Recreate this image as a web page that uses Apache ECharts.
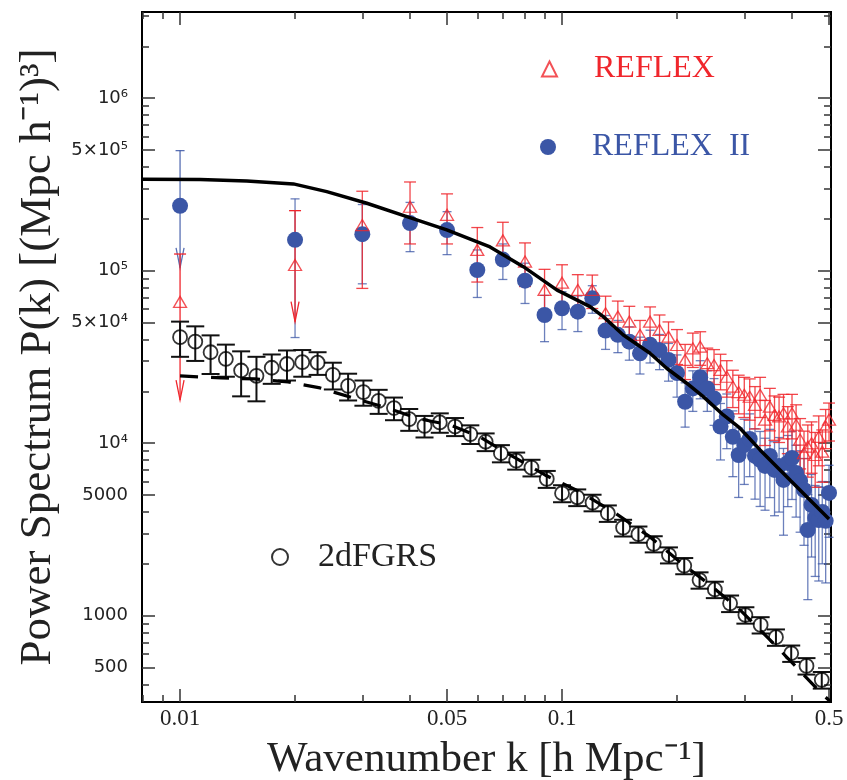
<!DOCTYPE html>
<html lang="en">
<head>
    <meta charset="utf-8">
    <title>Power spectrum</title>
    <script src="https://cdn.jsdelivr.net/npm/echarts@6/dist/echarts.min.js"></script>
    <style>
        html, body { margin: 0; height: 100%; background: #fff; }
    </style>
</head>
<body>
<div id="main" style="width:847px;height:780px;"></div>
<script>
// ---- data ----
var reflexK = [0.01, 0.02, 0.03, 0.04, 0.05, 0.06, 0.07, 0.08, 0.09, 0.10,
    0.11, 0.12, 0.13, 0.14, 0.15, 0.16, 0.17, 0.18, 0.19, 0.20,
    0.21, 0.22, 0.23, 0.24, 0.25, 0.26, 0.27, 0.28, 0.29, 0.30,
    0.31, 0.32, 0.33, 0.34, 0.35, 0.36, 0.37, 0.38, 0.39, 0.40,
    0.41, 0.42, 0.43, 0.44, 0.45, 0.46, 0.47, 0.48, 0.49, 0.50];

// REFLEX (red triangles)
var reflexP = [66000, 108000, 184000, 235000, 211000, 132000, 150000, 113000, 77400, 85300,
    77400, 77400, 56700, 54200, 50700, 42500, 50700, 45400, 41500, 37100,
    30400, 35500, 36300, 29100, 28400, 26600, 24300, 21300, 19800, 19100,
    18600, 16700, 19100, 13700, 16300, 14600, 14300, 14900, 12500, 14900,
    12800, 10500, 8750, 9560, 10000, 8550, 10900, 8940, 12500, 13700];
var reflexErr = [59000, 115000, 105000, 92000, 68000, 46000, 41000, 32000, 24500, 23000,
    17500, 17000, 14500, 12500, 11500, 9000, 11000, 10000, 9000, 8500,
    7000, 8000, 8000, 6500, 6500, 6200, 5800, 5200, 5000, 5000,
    5000, 4600, 5000, 4000, 4500, 4200, 4200, 4300, 3800, 4300,
    3900, 3400, 3000, 3200, 3300, 3000, 3500, 3000, 3200, 3400];
var reflexArrowK = [0.01, 0.02];
var reflexArrowTip = [17800, 50700];

// REFLEX II (blue dots)
var reflex2P = [238000, 151000, 163000, 189000, 172000, 101000, 116000, 87600, 55400, 60600,
    57900, 69300, 45000, 42500, 38800, 33200, 37200, 34700, 30400, 25500,
    17400, 20800, 24100, 20800, 18200, 12500, 14300, 10900, 8550, 9770,
    10600, 8440, 8000, 7390, 8440, 7000, 7390, 6130, 7690, 8220,
    6730, 6050, 5360, 3140, 4390, 3690, 3590, 4000, 3550, 5150];
var reflex2Err = [259000, 110000, 79000, 60000, 48000, 31000, 27000, 23000, 16600, 15000,
    13500, 12600, 10000, 9000, 8500, 8000, 8000, 8000, 7500, 7000,
    5000, 5500, 6000, 5500, 5500, 4500, 5000, 4500, 3700, 4000,
    4200, 3700, 3700, 3300, 3600, 3200, 3400, 3200, 3400, 3500,
    3000, 3000, 2800, 1900, 2200, 2000, 2000, 2000, 2000, 2300];
var reflex2ArrowK = [0.01];
var reflex2ArrowTip = [104000];

// 2dFGRS (open circles)
var twodfK = [0.01, 0.01096, 0.01202, 0.01318, 0.01445, 0.01585, 0.01738, 0.01905, 0.02089, 0.02291,
    0.02512, 0.02754, 0.0302, 0.03311, 0.03631, 0.03981, 0.04365, 0.04786, 0.05248, 0.05754,
    0.0631, 0.06918, 0.07586, 0.08318, 0.0912, 0.1, 0.1096, 0.1202, 0.1318, 0.1445,
    0.1585, 0.1738, 0.1905, 0.2089, 0.2291, 0.2512, 0.2754, 0.302, 0.3311, 0.3631,
    0.3981, 0.4365, 0.4786];
var twodfP = [41200, 38800, 33700, 30800, 26400, 24600, 27400, 28800, 29500, 29300,
    24900, 21500, 19800, 17600, 16000, 13800, 12600, 13200, 12500, 11300,
    10200, 8750, 7930, 7220, 6210, 5130, 4860, 4530, 3930, 3240,
    2970, 2610, 2250, 1950, 1610, 1420, 1180, 1010, 885, 751,
    606, 512, 425];
var twodfErr = [9500, 8800, 8500, 6500, 7700, 7100, 5300, 5700, 5200, 4400,
    4400, 3800, 3300, 2800, 2400, 2000, 1800, 1700, 1500, 1400,
    1200, 1000, 900, 800, 700, 580, 540, 500, 430, 360,
    320, 280, 240, 210, 175, 155, 130, 110, 96, 82,
    66, 56, 47];

// model curves
var modelK = [0.00795, 0.01128, 0.01495, 0.0198, 0.02421, 0.03083, 0.03924, 0.04991, 0.06479, 0.07918,
    0.09685, 0.1184, 0.1282, 0.1447, 0.17, 0.1879, 0.212, 0.2343, 0.2644, 0.2924,
    0.3299, 0.3875, 0.4457, 0.5];
var modelP = [339000, 338000, 331600, 318700, 287400, 246200, 205900, 172400, 137400, 105600,
    77400, 61930, 54180, 42450, 33230, 27210, 22280, 18630, 14590, 12220,
    9146, 6403, 4692, 3640];
var dashK = [0.01, 0.0128, 0.01571, 0.01917, 0.02325, 0.02837, 0.0342, 0.04249, 0.05089, 0.06099,
    0.0731, 0.09026, 0.1114, 0.1376, 0.17, 0.2036, 0.244, 0.2924, 0.3567, 0.4148,
    0.4794, 0.506];
var dashP = [24550, 23910, 23590, 22670, 20920, 18300, 16230, 13830, 12770, 10880,
    8552, 6550, 5220, 3945, 2863, 2051, 1509, 1080, 696, 492,
    352, 316];

// ticks
var xTickValues = [0.01, 0.05, 0.1, 0.5];
var xTickLabels = ['0.01', '0.05', '0.1', '0.5'];
var xMinorTicks = [0.008, 0.009, 0.02, 0.03, 0.04, 0.06, 0.07, 0.08, 0.09, 0.2, 0.3, 0.4];
var yTickValues = [500, 1000, 5000, 10000, 50000, 100000, 500000, 1000000];
var yTickLabels = ['500', '1000', '5000', '10\u2074', '5\u00d710\u2074', '10\u2075', '5\u00d710\u2075', '10\u2076'];
var yMinorTicks = [400, 600, 700, 800, 900, 2000, 3000, 4000, 6000, 7000, 8000, 9000,
    20000, 30000, 40000, 60000, 70000, 80000, 90000,
    200000, 300000, 400000, 600000, 700000, 800000, 900000, 2000000, 3000000];

var RED = '#f0262c';
var BLUE = '#3b56a6';

var chart = echarts.init(document.getElementById('main'));

function pairs(xs, ys) {
    return xs.map(function (x, i) { return [x, ys[i]]; });
}
function bars(xs, ys, es, skip) {
    var out = [];
    for (var i = 0; i < xs.length; i++) {
        if (skip.indexOf(xs[i]) >= 0) continue;
        out.push([xs[i], ys[i] - es[i], ys[i] + es[i]]);
    }
    return out;
}
function arrows(xs, ys, es, ak, tips) {
    return ak.map(function (k, j) {
        var i = xs.indexOf(k);
        return [k, ys[i] + es[i], tips[j]];
    });
}

// vertical error bar with caps
function barRenderer(cap, color, width) {
    return function (params, api) {
        var x = api.value(0);
        var top = api.coord([x, api.value(2)]);
        var bot = api.coord([x, api.value(1)]);
        var st = { stroke: color, lineWidth: width, fill: null };
        return {
            type: 'group', children: [
                { type: 'line', shape: { x1: top[0], y1: top[1], x2: bot[0], y2: bot[1] }, style: st },
                { type: 'line', shape: { x1: top[0] - cap, y1: top[1], x2: top[0] + cap, y2: top[1] }, style: st },
                { type: 'line', shape: { x1: bot[0] - cap, y1: bot[1], x2: bot[0] + cap, y2: bot[1] }, style: st }
            ]
        };
    };
}
// upper limit: cap on top, arrow head at the bottom
function arrowRenderer(cap, color, width) {
    return function (params, api) {
        var x = api.value(0);
        var top = api.coord([x, api.value(1)]);
        var tip = api.coord([x, api.value(2)]);
        var st = { stroke: color, lineWidth: width, fill: null };
        return {
            type: 'group', children: [
                { type: 'line', shape: { x1: top[0], y1: top[1], x2: tip[0], y2: tip[1] }, style: st },
                { type: 'line', shape: { x1: top[0] - cap, y1: top[1], x2: top[0] + cap, y2: top[1] }, style: st },
                { type: 'polyline', shape: { points: [[tip[0] - 4, tip[1] - 20], [tip[0], tip[1]], [tip[0] + 4, tip[1] - 20]] }, style: st }
            ]
        };
    };
}

var XMIN = 0.00795, XMAX = 0.506, YMIN = 316.2, YMAX = 3162000;

function xAxisDef(pos, values, len, labels) {
    return {
        type: 'log', position: pos, min: XMIN, max: XMAX,
        axisLine: { show: true, onZero: false, lineStyle: { color: '#000', width: 2 } },
        axisTick: { show: true, inside: true, length: len, customValues: values, lineStyle: { color: '#333', width: 1.5 } },
        axisLabel: labels ? {
            show: true, customValues: values, margin: 5,
            fontFamily: 'Liberation Serif', fontSize: 23, color: '#222',
            formatter: function (v) {
                var i = xTickValues.indexOf(v);
                return i >= 0 ? xTickLabels[i] : '';
            }
        } : { show: false },
        splitLine: { show: false }
    };
}
function yAxisDef(pos, values, len, labels) {
    return {
        type: 'log', position: pos, min: YMIN, max: YMAX,
        axisLine: { show: true, onZero: false, lineStyle: { color: '#000', width: 2 } },
        axisTick: { show: true, inside: true, length: len, customValues: values, lineStyle: { color: '#333', width: 1.5 } },
        axisLabel: labels ? {
            show: true, customValues: values, margin: 14,
            fontFamily: 'DejaVu Sans', fontSize: 18, color: '#222',
            formatter: function (v) {
                var i = yTickValues.indexOf(v);
                return i >= 0 ? yTickLabels[i] : '';
            }
        } : { show: false },
        splitLine: { show: false }
    };
}

var xBottom = xAxisDef('bottom', xTickValues, 13, true);
xBottom.name = 'Wavenumber k [h Mpc\u207b\u00b9]';
xBottom.nameLocation = 'middle';
xBottom.nameGap = 36;
xBottom.nameTextStyle = { fontFamily: 'Liberation Serif', fontSize: 43, color: '#222' };

var yLeft = yAxisDef('left', yTickValues, 13, true);
yLeft.name = 'Power Spectrum P(k) [(Mpc h\u207b\u00b9)\u00b3]';
yLeft.nameLocation = 'middle';
yLeft.nameGap = 80;
yLeft.nameTextStyle = { fontFamily: 'Liberation Serif', fontSize: 45, color: '#222' };

// legend entries: square icon box, text pushed right by an empty rich block
function legendDef(name, label, left, top, size, gap, font, color) {
    var rich = { g: { width: gap } };
    return {
        data: [name], left: left, top: top, itemWidth: size, itemHeight: size,
        selectedMode: false,
        formatter: function () { return '{g|}' + label; },
        textStyle: { fontFamily: 'Liberation Serif', fontSize: font, color: color, rich: rich }
    };
}

var option = {
    animation: false,
    backgroundColor: '#fff',
    grid: { left: 142, right: 16, top: 12, bottom: 78, outerBoundsMode: 'none' },
    xAxis: [
        xBottom,
        xAxisDef('bottom', xMinorTicks, 7, false),
        xAxisDef('top', xTickValues, 13, false),
        xAxisDef('top', xMinorTicks, 7, false)
    ],
    yAxis: [
        yLeft,
        yAxisDef('left', yMinorTicks, 7, false),
        yAxisDef('right', yTickValues, 13, false),
        yAxisDef('right', yMinorTicks, 7, false)
    ],
    legend: [
        legendDef('REFLEX', 'REFLEX', 536, 48, 15, 32, 32, RED),
        legendDef('REFLEX II', 'REFLEX  II', 535, 126, 16, 31, 32, BLUE),
        legendDef('2dFGRS', '2dFGRS', 266, 535, 16, 25, 34, '#222')
    ],
    series: [
        {
            type: 'custom', name: 'REFLEX II bars', renderItem: barRenderer(4.5, 'rgba(59,86,166,0.75)', 1.3),
            data: bars(reflexK, reflex2P, reflex2Err, reflex2ArrowK), encode: { x: 0, y: [1, 2] }
        },
        {
            type: 'custom', name: 'REFLEX II limits', renderItem: arrowRenderer(4.5, 'rgba(59,86,166,0.85)', 1.3),
            data: arrows(reflexK, reflex2P, reflex2Err, reflex2ArrowK, reflex2ArrowTip), encode: { x: 0, y: [1, 2] }
        },
        {
            type: 'scatter', name: 'REFLEX II', symbol: 'circle', symbolSize: 16,
            itemStyle: { color: BLUE, opacity: 1 },
            data: pairs(reflexK, reflex2P)
        },
        {
            type: 'custom', name: 'REFLEX bars', renderItem: barRenderer(6, 'rgba(240,38,44,0.85)', 1.3),
            data: bars(reflexK, reflexP, reflexErr, reflexArrowK), encode: { x: 0, y: [1, 2] }
        },
        {
            type: 'custom', name: 'REFLEX limits', renderItem: arrowRenderer(6, RED, 1.3),
            data: arrows(reflexK, reflexP, reflexErr, reflexArrowK, reflexArrowTip), encode: { x: 0, y: [1, 2] }
        },
        {
            type: 'scatter', name: 'REFLEX', symbol: 'triangle', symbolSize: [13, 11],
            itemStyle: { color: 'rgba(0,0,0,0)', borderColor: RED, borderWidth: 1.3 },
            data: pairs(reflexK, reflexP)
        },
        {
            type: 'line', name: 'model', showSymbol: false, symbol: 'none', smooth: false,
            lineStyle: { color: '#000', width: 3.5 },
            data: pairs(modelK, modelP)
        },
        {
            type: 'custom', name: '2dFGRS bars', renderItem: barRenderer(9, '#111', 2),
            data: bars(twodfK, twodfP, twodfErr, []), encode: { x: 0, y: [1, 2] }
        },
        {
            type: 'scatter', name: '2dFGRS', symbol: 'circle', symbolSize: 14,
            itemStyle: { color: 'rgba(0,0,0,0)', borderColor: '#000', borderWidth: 1.8 },
            data: pairs(twodfK, twodfP)
        },
        {
            type: 'line', name: '2dF model', showSymbol: false, symbol: 'none', smooth: false,
            lineStyle: { color: '#000', width: 3.2, type: [18, 13] },
            data: pairs(dashK, dashP)
        }
    ]
};

chart.setOption(option);
</script>
</body>
</html>
